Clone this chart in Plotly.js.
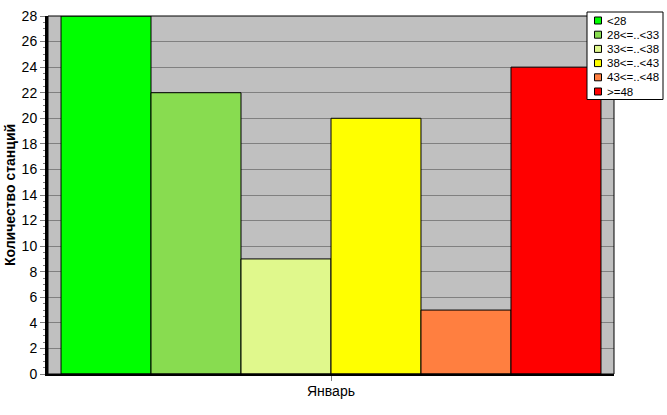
<!DOCTYPE html>
<html><head><meta charset="utf-8">
<script src="https://cdn.plot.ly/plotly-3.0.1.min.js"></script>
<style>html,body{margin:0;padding:0;background:#fff}#chart{width:667px;height:415px}</style>
</head><body><div id="chart"></div>
<script>
const categories = ['Январь'];
const seriesNames = ['<28', '28<=..<33', '33<=..<38', '38<=..<43', '43<=..<48', '>=48'];
const seriesValues = [[28], [22], [9], [20], [5], [24]];
const seriesColors = ['#00FF00', '#88DC50', '#E0F88C', '#FFFF00', '#FF7F40', '#FF0000'];
const yTicks = [0,2,4,6,8,10,12,14,16,18,20,22,24,26,28];

const W = 667, H = 415;
const M = {l: 48, r: 53, t: 16, b: 41};
const PW = W - M.l - M.r, PH = H - M.t - M.b;
const px = x => (x - M.l) / PW;
const py = y => (H - M.b - y) / PH;

const traces = seriesNames.map((n, i) => ({
  type: 'bar', name: n, x: categories, y: seriesValues[i],
  marker: {color: seriesColors[i], line: {color: '#000', width: 1}},
  hoverinfo: 'none'
}));

const shapes = [
  {type: 'rect', xref: 'paper', yref: 'paper', x0: 0, x1: 1, y0: 0, y1: 1, line: {color: '#000', width: 1}, layer: 'above'},
  {type: 'rect', xref: 'paper', yref: 'paper', x0: px(587), x1: px(663), y0: py(99.5), y1: py(12), line: {color: '#000', width: 1}, fillcolor: '#fff', layer: 'above'}
];
const annotations = [];
seriesNames.forEach((n, i) => {
  const cy = 20.5 + i * 14.2;
  shapes.push({type: 'rect', xref: 'paper', yref: 'paper', x0: px(594.5), x1: px(601.5), y0: py(cy + 3.5), y1: py(cy - 3.5),
    fillcolor: seriesColors[i], line: {color: '#000', width: 1}, layer: 'above'});
  annotations.push({xref: 'paper', yref: 'paper', x: px(605), y: py(cy), xanchor: 'left', yanchor: 'middle',
    text: n.replace(/</g, '&lt;'), showarrow: false, font: {family: 'Arial, Liberation Sans', size: 11.5, color: '#000'}});
});

const layout = {
  width: W, height: H, margin: M,
  paper_bgcolor: '#fff', plot_bgcolor: '#C0C0C0',
  barmode: 'group', bargap: 0.046, bargroupgap: 0,
  showlegend: false,
  font: {family: 'Arial, Liberation Sans', color: '#000'},
  xaxis: {type: 'category', showline: true, linecolor: '#000', linewidth: 2, ticks: 'outside', ticklen: 5, tickcolor: '#808080',
    tickfont: {size: 14}, ticklabelstandoff: -2, showgrid: false, zeroline: false, fixedrange: true},
  yaxis: {range: [0, 28], tickvals: yTicks, ticktext: yTicks.map(String), showline: true, linecolor: '#000', linewidth: 3,
    ticks: 'outside', ticklen: 5, tickcolor: '#808080', tickfont: {size: 14}, showgrid: true, gridcolor: '#808080', gridwidth: 1,
    zeroline: false, minor: {dtick: 0.5, ticks: 'outside', ticklen: 2, tickcolor: '#808080', showgrid: false},
    title: {text: '<b>Количество станций</b>', font: {size: 14}, standoff: 3}},
  shapes: shapes, annotations: annotations
};
Plotly.newPlot('chart', traces, layout, {displayModeBar: false, staticPlot: true});
</script></body></html>
